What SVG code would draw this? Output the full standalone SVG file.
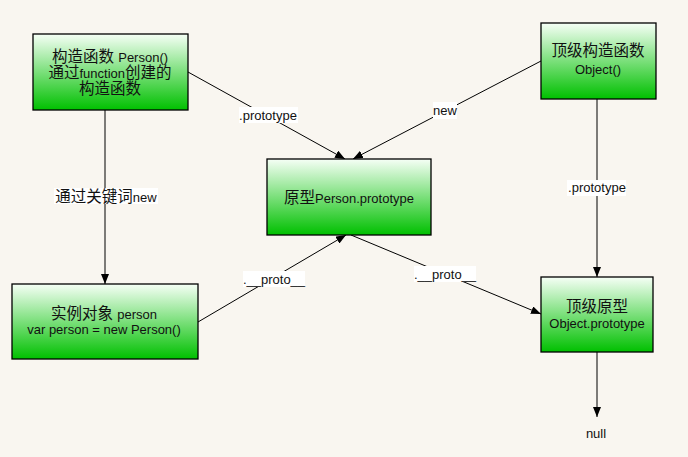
<svg xmlns="http://www.w3.org/2000/svg" width="688" height="457" viewBox="0 0 688 457">
<defs>
<linearGradient id="g" x1="0" y1="0" x2="0" y2="1">
<stop offset="0" stop-color="#f6fff6"/>
<stop offset="1" stop-color="#00c000"/>
</linearGradient>
<marker id="ar" markerWidth="10" markerHeight="8" refX="10" refY="4" orient="auto" markerUnits="userSpaceOnUse">
<path d="M0,0 L10,4 L0,8 Z" fill="#000"/>
</marker>
</defs>
<style>
.box{fill:url(#g);stroke:#000;stroke-width:1.3}
.t{font-family:"Liberation Sans","Noto Sans CJK SC",sans-serif;font-size:13px;fill:#111;text-anchor:middle}
.s{font-size:13px}
.c{font-size:15.5px}
.ln{stroke:#000;stroke-width:1;fill:none;marker-end:url(#ar)}
.lb{fill:#fff}
</style>
<rect width="688" height="457" fill="#f9f6f0"/>
<g id="connectors">
<line class="ln" x1="105" y1="110" x2="105" y2="284"/>
<line class="ln" x1="188" y1="72" x2="345" y2="159"/>
<line class="ln" x1="541" y1="61" x2="353" y2="159"/>
<line class="ln" x1="597" y1="99" x2="597" y2="277"/>
<line class="ln" x1="198" y1="322" x2="346" y2="235"/>
<line class="ln" x1="351" y1="235" x2="541" y2="314"/>
<line class="ln" x1="597" y1="352" x2="597" y2="417"/>
<rect class="lb" x="54" y="188" width="104" height="16"/>
<text class="t c" x="106" y="202">通过关键词<tspan class="s">new</tspan></text>
<rect class="lb" x="239" y="107" width="59" height="16"/>
<text class="t s" x="268" y="120">.prototype</text>
<rect class="lb" x="433" y="102" width="24" height="17"/>
<text class="t s" x="445" y="115">new</text>
<rect class="lb" x="567" y="180" width="59" height="16"/>
<text class="t s" x="597" y="192">.prototype</text>
<rect class="lb" x="243" y="271" width="62" height="16"/>
<text class="t s" x="274" y="284">.__proto__</text>
<rect class="lb" x="414" y="266" width="62" height="16"/>
<text class="t s" x="445" y="279">.__proto__</text>
<text class="t s" x="596" y="438">null</text>
</g>
<g id="person">
<rect class="box" x="33" y="34" width="155" height="76"/>
<text class="t c" x="110" y="62">构造函数 <tspan class="s">Person()</tspan></text>
<text class="t c" x="110" y="78">通过<tspan class="s">function</tspan>创建的</text>
<text class="t c" x="110" y="94">构造函数</text>
</g>
<g id="object">
<rect class="box" x="541" y="23" width="115" height="76"/>
<text class="t c" x="598" y="56">顶级构造函数</text>
<text class="t s" x="598" y="74">Object()</text>
</g>
<g id="prototype">
<rect class="box" x="267" y="159" width="164" height="76"/>
<text class="t c" x="349" y="203">原型<tspan class="s">Person.prototype</tspan></text>
</g>
<g id="instance">
<rect class="box" x="12" y="284" width="186" height="75"/>
<text class="t c" x="104" y="319">实例对象 <tspan class="s">person</tspan></text>
<text class="t s" x="104" y="334">var person = new Person()</text>
</g>
<g id="objproto">
<rect class="box" x="541" y="277" width="112" height="75"/>
<text class="t c" x="597" y="312">顶级原型</text>
<text class="t s" x="597" y="328">Object.prototype</text>
</g>
</svg>
